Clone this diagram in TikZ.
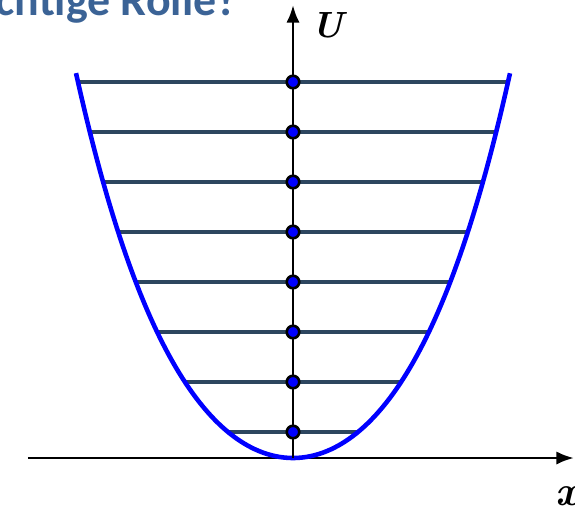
\documentclass[tikz,border=0pt]{standalone}
\usepackage{fontspec}
\usepackage{tikz}
\usetikzlibrary{arrows.meta, positioning, calc}
\newfontfamily\titlefont[Ligatures=NoCommon]{Carlito}
\definecolor{titleblue}{RGB}{59,99,150}
\definecolor{levelslate}{RGB}{45,70,95}
\definecolor{wellblue}{RGB}{0,0,255}

\begin{document}
\begin{tikzpicture}[x=2cm, y=2cm]
  \def\wa{0.5955}
  \def\wb{0.0471}
  \tikzset{
    axis/.style={-{Latex[length=10pt, width=7.5pt]}, line width=1.6pt, color=black},
    level/.style={line width=2.1pt, color=levelslate},
    well/.style={line width=2.6pt, color=wellblue},
    edot/.style={
      circle, fill=wellblue, draw=black, line width=1.5pt,
      inner sep=0pt, minimum size=0.25cm
    },
    axlabel/.style={inner sep=0pt, font=\huge\bfseries\itshape}
  }
  \useasboundingbox (-2.93,-0.50) rectangle (2.82,4.58);
  % axis end points
  \coordinate (xstart) at (-2.65,0);
  \coordinate (xend) at (2.81,0);
  \coordinate (origin) at (0,0);
  \coordinate (utop) at (0,4.53);
  % energy levels, each one ends on the curve
  \foreach \i in {1,...,8}{
    \pgfmathsetmacro\lh{0.26+0.5*(\i-1)}
    \pgfmathsetmacro\lw{sqrt((-\wa+sqrt(\wa*\wa+4*\wb*\lh))/(2*\wb))}
    \coordinate (l\i) at (-\lw,\lh);
    \coordinate (r\i) at (\lw,\lh);
    \draw[level] (l\i) -- (r\i);
  }
  % potential well
  \draw[axis] (xstart) -- (xend);
  \draw[well] plot[domain=-2.17:2.17, samples=120, smooth]
    (\x, {\wa*\x*\x + \wb*\x*\x*\x*\x});
  \draw[axis] (origin) -- (utop);
  \foreach \i in {1,...,8}{
    \node[edot] (e\i) at (0,{0.26+0.5*(\i-1)}) {};
  }
  % labels
  \node[axlabel] (ulabel) at (0.35,4.33) {U};
  \node[axlabel, scale=1.15] (xlabel) at (2.74,-0.38) {x};
  \node[text=titleblue, anchor=base east, inner sep=0pt,
    font=\titlefont\bfseries\Huge, scale=1.05] (title) at (-0.55,4.42) {chtige Rolle?};
\end{tikzpicture}
\end{document}
